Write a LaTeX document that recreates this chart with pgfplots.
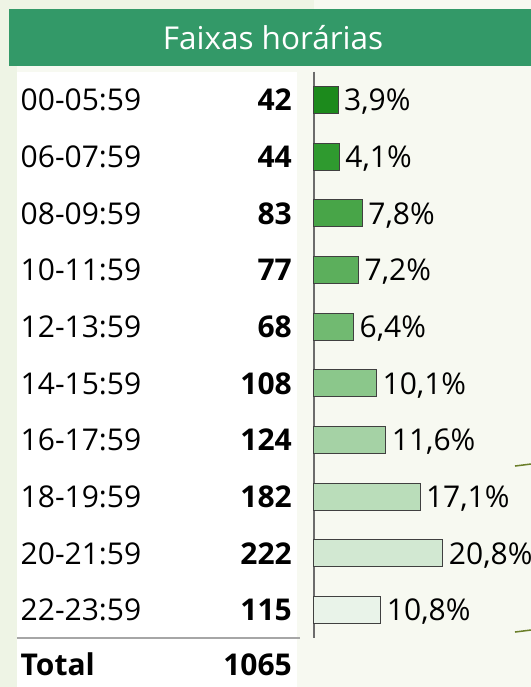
\documentclass[border=0pt]{standalone}
\usepackage{pgfplots}
\pgfplotsset{compat=1.18}
\usepackage{fontspec}
\setmainfont{Open Sans}
\definecolor{bg}{RGB}{247,249,241}
\definecolor{bgleft}{RGB}{238,244,229}
\definecolor{titlegreen}{RGB}{51,153,104}
\definecolor{deco}{RGB}{107,127,42}
\definecolor{c1}{RGB}{28,138,28}
\definecolor{c2}{RGB}{47,154,47}
\definecolor{c3}{RGB}{72,165,72}
\definecolor{c4}{RGB}{92,175,92}
\definecolor{c5}{RGB}{113,186,113}
\definecolor{c6}{RGB}{139,199,139}
\definecolor{c7}{RGB}{165,210,165}
\definecolor{c8}{RGB}{186,221,186}
\definecolor{c9}{RGB}{210,232,210}
\definecolor{c10}{RGB}{233,243,233}
\tikzset{
  tf/.style={font=\fontsize{30bp}{36bp}\selectfont, inner sep=0pt, text height=21.4bp, text depth=0pt},
  lab/.style={tf, anchor=west, xshift=-293.5bp},
  cnt/.style={tf, anchor=east, xshift=-22bp, font=\fontsize{30bp}{36bp}\selectfont\bfseries},
}
\begin{document}
\begin{tikzpicture}
\fill[bg] (-314bp,-48.67bp) rectangle (217bp,638.33bp);
\fill[bgleft] (-314bp,-48.67bp) rectangle (-297bp,638.33bp);
\fill[bgleft] (-314bp,629.33bp) rectangle (0bp,638.33bp);
\fill[white] (-297bp,-48.67bp) rectangle (-17bp,566.33bp);
\fill[titlegreen] (-305bp,572.33bp) rectangle (217bp,629.33bp);
\node[text=white, font=\fontsize{31.5bp}{36bp}\selectfont] at (-41bp,600.33bp) {Faixas horárias};
\draw[deco, line width=1.5bp] (201bp,172.3bp) -- (217bp,174.3bp);
\draw[deco, line width=1.5bp] (201bp,6.3bp) -- (217bp,8.3bp);
\begin{axis}[
  at={(0,0)}, anchor=south west, scale only axis,
  width=217bp, height=566.67bp,
  xmin=0, xmax=35, ymin=-0.5, ymax=9.5, y dir=reverse,
  clip=false,
  hide x axis,
  axis y line=left,
  axis line style={-, draw=gray!85!black, line width=1.5bp},
  ytick=\empty, xtick=\empty,
  xbar, bar width=27bp, bar shift=0pt,
  point meta=explicit symbolic,
  nodes near coords,
  every node near coord/.append style={tf, anchor=west, xshift=5.5bp, text=black},
  every axis plot/.append style={draw=black!75, line width=1bp},
]
\addplot[fill=c1]  coordinates {(3.9,0) [3,9\%]};
\addplot[fill=c2]  coordinates {(4.1,1) [4,1\%]};
\addplot[fill=c3]  coordinates {(7.8,2) [7,8\%]};
\addplot[fill=c4]  coordinates {(7.2,3) [7,2\%]};
\addplot[fill=c5]  coordinates {(6.4,4) [6,4\%]};
\addplot[fill=c6]  coordinates {(10.1,5) [10,1\%]};
\addplot[fill=c7]  coordinates {(11.6,6) [11,6\%]};
\addplot[fill=c8]  coordinates {(17.1,7) [17,1\%]};
\addplot[fill=c9]  coordinates {(20.8,8) [20,8\%]};
\addplot[fill=c10] coordinates {(10.8,9) [10,8\%]};

\node[lab] at (axis cs:0,0) {00-05:59};
\node[lab] at (axis cs:0,1) {06-07:59};
\node[lab] at (axis cs:0,2) {08-09:59};
\node[lab] at (axis cs:0,3) {10-11:59};
\node[lab] at (axis cs:0,4) {12-13:59};
\node[lab] at (axis cs:0,5) {14-15:59};
\node[lab] at (axis cs:0,6) {16-17:59};
\node[lab] at (axis cs:0,7) {18-19:59};
\node[lab] at (axis cs:0,8) {20-21:59};
\node[lab] at (axis cs:0,9) {22-23:59};
\node[lab, font=\fontsize{30bp}{36bp}\selectfont\bfseries] at (axis cs:0,9.97) {Total};

\node[cnt] at (axis cs:0,0) {42};
\node[cnt] at (axis cs:0,1) {44};
\node[cnt] at (axis cs:0,2) {83};
\node[cnt] at (axis cs:0,3) {77};
\node[cnt] at (axis cs:0,4) {68};
\node[cnt] at (axis cs:0,5) {108};
\node[cnt] at (axis cs:0,6) {124};
\node[cnt] at (axis cs:0,7) {182};
\node[cnt] at (axis cs:0,8) {222};
\node[cnt] at (axis cs:0,9) {115};
\node[cnt] at (axis cs:0,9.97) {1065};
\end{axis}
\draw[gray!70, line width=2bp] (-297bp,0bp) -- (-14bp,0bp);
\pgfresetboundingbox
\useasboundingbox (-314bp,-48.67bp) rectangle (217bp,638.33bp);
\end{tikzpicture}
\end{document}
